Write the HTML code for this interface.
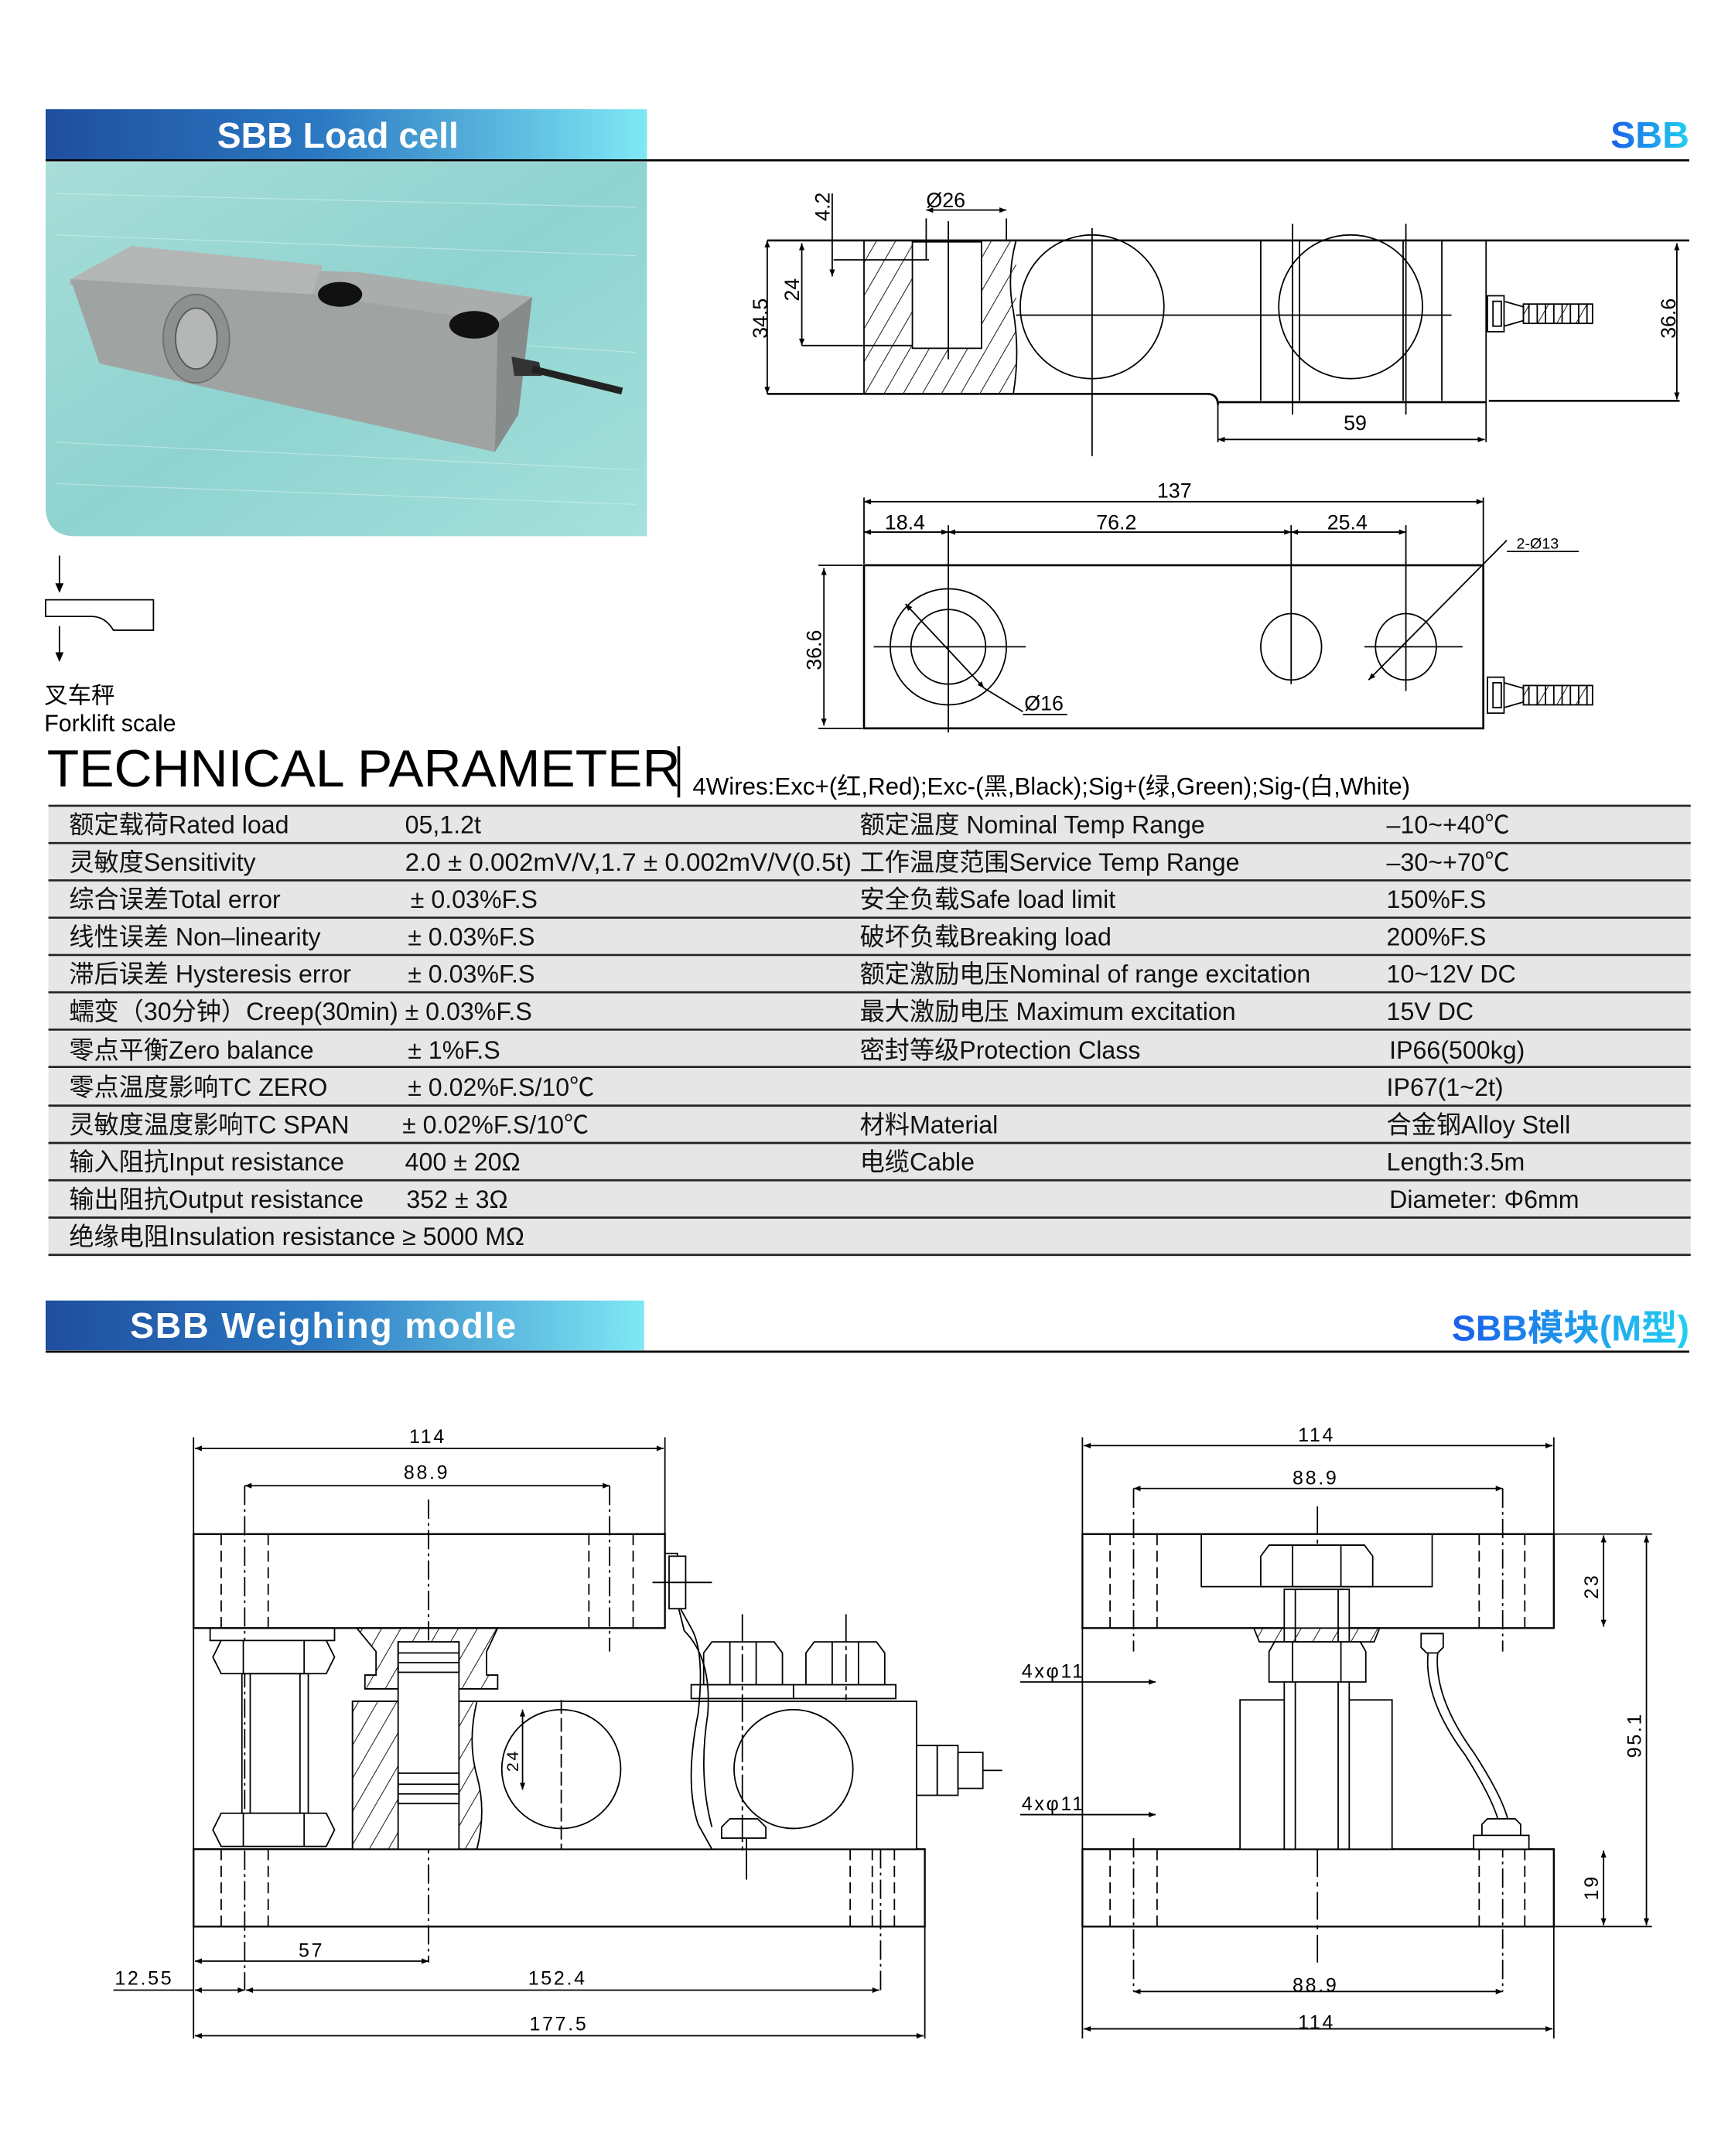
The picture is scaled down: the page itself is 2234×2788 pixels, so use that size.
<!DOCTYPE html>
<html><head><meta charset="utf-8"><style>
html,body{margin:0;padding:0;background:#fff}
svg{display:block}
text{font-family:"Liberation Sans","Noto Sans CJK SC",sans-serif}
.d{font-family:"Liberation Serif","Noto Serif CJK SC",serif;font-size:14px;letter-spacing:1.5px}
</style></head><body>
<svg width="2234" height="2788" viewBox="0 0 1250 1560" preserveAspectRatio="none" xmlns="http://www.w3.org/2000/svg">
<defs>
<linearGradient id="hb" x1="0" x2="1" y1="0" y2="0"><stop offset="0" stop-color="#1f4f9e"/><stop offset="0.45" stop-color="#2b78c2"/><stop offset="1" stop-color="#7fe8f4"/></linearGradient>
<linearGradient id="tx" x1="0" x2="1"><stop offset="0" stop-color="#1a5ee8"/><stop offset="1" stop-color="#22d0f0"/></linearGradient>
<linearGradient id="ph" x1="0" x2="1" y1="0" y2="1"><stop offset="0" stop-color="#a8ddd8"/><stop offset="0.5" stop-color="#8fd3d0"/><stop offset="1" stop-color="#a5e0dc"/></linearGradient>
<linearGradient id="mt" x1="0" x2="1" y1="0" y2="1"><stop offset="0" stop-color="#b9bcbb"/><stop offset="1" stop-color="#8f9493"/></linearGradient>
<pattern id="hat" patternUnits="userSpaceOnUse" width="12" height="12" patternTransform="rotate(30)"><line x1="0" y1="0" x2="0" y2="12" stroke="#000" stroke-width="1"/></pattern>
<marker id="a" viewBox="0 0 10 10" refX="10" refY="5" markerWidth="8" markerHeight="5" orient="auto-start-reverse"><path d="M0,1 L10,5 L0,9z" fill="#000"/></marker>
</defs>

<!-- header 1 -->
<rect x="33" y="79" width="435" height="37" fill="url(#hb)"/>
<text x="157" y="107" font-size="26" font-weight="bold" fill="#fff">SBB  Load cell</text>
<line x1="33" y1="116" x2="1222" y2="116" stroke="#000" stroke-width="1.5"/>
<text x="1222" y="107" font-size="27" font-weight="bold" fill="url(#tx)" text-anchor="end">SBB</text>

<!-- photo -->
<path d="M33,117 H468 V388 H55 Q33,388 33,366 Z" fill="url(#ph)"/>
<g stroke="#c6ecea" stroke-width="0.6" opacity="0.8">
<line x1="40" y1="140" x2="460" y2="150"/><line x1="40" y1="170" x2="460" y2="185"/><line x1="40" y1="320" x2="460" y2="340"/><line x1="40" y1="350" x2="460" y2="365"/><line x1="60" y1="230" x2="460" y2="255"/>
</g>
<!-- top face -->
<polygon points="51,202 95,178 233,192 231,214 260,197 385,215 360,233 50,206" fill="#b0b3b2"/>
<polygon points="95,178 233,192 226,213 51,202" fill="#b3b6b5"/>
<polygon points="231,196 260,197 385,215 360,233 226,213" fill="#a9adac"/>
<!-- front face -->
<polygon points="51,202 226,213 360,233 358,327 72,263" fill="#9fa3a2"/>
<!-- right face -->
<polygon points="360,233 385,215 375,300 358,327" fill="#878c8b"/>
<ellipse cx="142" cy="245" rx="24" ry="32" fill="#8c908f" stroke="#6d7170"/>
<ellipse cx="142" cy="245" rx="15" ry="22" fill="#b4b7b6" stroke="#555"/>
<ellipse cx="246" cy="213" rx="16" ry="9" fill="#111"/>
<ellipse cx="343" cy="235" rx="18" ry="10" fill="#111"/>
<polygon points="370,258 390,262 392,272 372,272" fill="#333"/>
<line x1="385" y1="267" x2="450" y2="283" stroke="#222" stroke-width="5"/>

<!-- forklift icon -->
<line x1="43" y1="402" x2="43" y2="428" stroke="#000"/><path d="M40,422 L43,429 L46,422z"/>
<path d="M33,434 H111 V456 H82 Q76,446 66,446 H33 Z" fill="none" stroke="#000"/>
<line x1="43" y1="453" x2="43" y2="478" stroke="#000"/><path d="M40,472 L43,479 L46,472z"/>
<text x="32" y="509" font-size="17">叉车秤</text>
<text x="32" y="529" font-size="17">Forklift scale</text>

<!-- top drawing (side view) -->
<g fill="none" stroke="#000" stroke-width="1">
<rect x="625" y="174" width="110" height="111" fill="url(#hat)" stroke="none"/>
<rect x="660" y="175" width="50" height="77" fill="#fff" stroke="#000"/>
<line x1="555" y1="174" x2="1222" y2="174" stroke-width="1.5"/>
<path d="M555,285 H873 Q881,285 881,293 V291 H1075" stroke-width="1.5"/>
<line x1="1077" y1="290" x2="1215" y2="290" stroke-width="1.5"/>
<line x1="625" y1="174" x2="625" y2="285"/>
<path d="M735,174 Q728,200 733,225 Q738,255 733,285"/>
<line x1="603" y1="188" x2="672" y2="188"/>
<line x1="580" y1="250" x2="660" y2="250"/>
<line x1="670" y1="158" x2="670" y2="188"/><line x1="728" y1="158" x2="728" y2="174"/>
<line x1="686" y1="160" x2="686" y2="260"/>
<circle cx="790" cy="222" r="52"/>
<line x1="790" y1="165" x2="790" y2="330"/>
<circle cx="977" cy="222" r="52"/>
<line x1="912" y1="174" x2="912" y2="290"/><line x1="940" y1="174" x2="940" y2="290"/>
<line x1="1015" y1="174" x2="1015" y2="290"/><line x1="1043" y1="174" x2="1043" y2="290"/>
<line x1="1075" y1="174" x2="1075" y2="320"/>
<line x1="935" y1="162" x2="935" y2="300"/><line x1="1017" y1="162" x2="1017" y2="300"/>
<line x1="735" y1="228" x2="1050" y2="228"/>
<line x1="881" y1="293" x2="881" y2="320"/>
<line x1="555" y1="174" x2="555" y2="285" marker-start="url(#a)" marker-end="url(#a)"/>
<line x1="580" y1="176" x2="580" y2="250" marker-start="url(#a)" marker-end="url(#a)"/>
<line x1="602" y1="140" x2="602" y2="200" marker-end="url(#a)"/>
<line x1="670" y1="152" x2="728" y2="152" marker-start="url(#a)" marker-end="url(#a)"/>
<line x1="881" y1="318" x2="1074" y2="318" marker-start="url(#a)" marker-end="url(#a)"/>
<line x1="1213" y1="176" x2="1213" y2="289" marker-start="url(#a)" marker-end="url(#a)"/>
</g>
<g id="conn" fill="none" stroke="#000" stroke-width="1">
<rect x="1076" y="214" width="12" height="26"/><rect x="1080" y="218" width="6" height="18"/>
<path d="M1088,218 L1102,222 V232 L1088,236"/>
<rect x="1102" y="220" width="50" height="14" fill="url(#hat)"/>
<g stroke="#000"><line x1="1106" y1="220" x2="1106" y2="234"/><line x1="1112" y1="220" x2="1112" y2="234"/><line x1="1118" y1="220" x2="1118" y2="234"/><line x1="1124" y1="220" x2="1124" y2="234"/><line x1="1130" y1="220" x2="1130" y2="234"/><line x1="1136" y1="220" x2="1136" y2="234"/><line x1="1142" y1="220" x2="1142" y2="234"/><line x1="1148" y1="220" x2="1148" y2="234"/></g>
</g>
<use href="#conn" transform="translate(0,276)"/>
<g font-size="15">
<text x="670" y="150">Ø26</text>
<text x="600" y="160" transform="rotate(-90 600 160)">4.2</text>
<text x="578" y="218" transform="rotate(-90 578 218)">24</text>
<text x="555" y="245" transform="rotate(-90 555 245)">34.5</text>
<text x="1212" y="245" transform="rotate(-90 1212 245)">36.6</text>
<text x="972" y="311">59</text>
</g>

<!-- bottom view -->
<g fill="none" stroke="#000" stroke-width="1">
<rect x="625" y="409" width="448" height="118" stroke-width="1.5"/>
<line x1="625" y1="360" x2="625" y2="408"/><line x1="1073" y1="360" x2="1073" y2="408"/>
<line x1="625" y1="363" x2="1073" y2="363" marker-start="url(#a)" marker-end="url(#a)"/>
<line x1="625" y1="385" x2="686" y2="385" marker-start="url(#a)" marker-end="url(#a)"/>
<line x1="686" y1="385" x2="934" y2="385" marker-start="url(#a)" marker-end="url(#a)"/>
<line x1="934" y1="385" x2="1017" y2="385" marker-start="url(#a)" marker-end="url(#a)"/>
<line x1="686" y1="380" x2="686" y2="530"/><line x1="934" y1="380" x2="934" y2="495"/><line x1="1017" y1="380" x2="1017" y2="500"/>
<circle cx="686" cy="468" r="42"/><circle cx="686" cy="468" r="27"/>
<line x1="632" y1="468" x2="742" y2="468"/>
<ellipse cx="934" cy="468" rx="22" ry="24"/>
<ellipse cx="1017" cy="468" rx="22" ry="24"/>
<line x1="987" y1="468" x2="1058" y2="468"/>
<line x1="655" y1="437" x2="712" y2="498" marker-start="url(#a)" marker-end="url(#a)"/>
<line x1="712" y1="498" x2="740" y2="515"/><line x1="740" y1="517" x2="772" y2="517"/>
<line x1="990" y1="492" x2="1090" y2="391" marker-start="url(#a)"/>
<line x1="1090" y1="399" x2="1142" y2="399"/>
<line x1="592" y1="409" x2="624" y2="409"/><line x1="592" y1="527" x2="624" y2="527"/>
<line x1="596" y1="411" x2="596" y2="525" marker-start="url(#a)" marker-end="url(#a)"/>
</g>
<g font-size="15">
<text x="837" y="360">137</text>
<text x="640" y="383">18.4</text>
<text x="793" y="383">76.2</text>
<text x="960" y="383">25.4</text>
<text x="1097" y="397" font-size="11">2-Ø13</text>
<text x="741" y="514">Ø16</text>
<text x="594" y="485" transform="rotate(-90 594 485)">36.6</text>
</g>

<!-- technical parameter -->
<text x="34" y="569" font-size="38">TECHNICAL PARAMETER</text>
<line x1="491" y1="540" x2="491" y2="577" stroke="#000" stroke-width="2"/>
<text x="501" y="575" font-size="17.5">4Wires:Exc+(红,Red);Exc-(黑,Black);Sig+(绿,Green);Sig-(白,White)</text>
<rect x="35" y="583" width="1188" height="325" fill="#e6e6e6"/>
<g stroke="#222" stroke-width="1.5">
<line x1="35" y1="583" x2="1223" y2="583"/><line x1="35" y1="610" x2="1223" y2="610"/><line x1="35" y1="637" x2="1223" y2="637"/><line x1="35" y1="664" x2="1223" y2="664"/><line x1="35" y1="691" x2="1223" y2="691"/><line x1="35" y1="718" x2="1223" y2="718"/><line x1="35" y1="745" x2="1223" y2="745"/><line x1="35" y1="772" x2="1223" y2="772"/><line x1="35" y1="800" x2="1223" y2="800"/><line x1="35" y1="827" x2="1223" y2="827"/><line x1="35" y1="854" x2="1223" y2="854"/><line x1="35" y1="881" x2="1223" y2="881"/><line x1="35" y1="908" x2="1223" y2="908"/>
</g>
<g font-size="18" fill="#111">
<text x="50" y="603">额定载荷Rated load</text><text x="293" y="603">05,1.2t</text><text x="622" y="603">额定温度 Nominal Temp Range</text><text x="1003" y="603">–10~+40℃</text>
<text x="50" y="630">灵敏度Sensitivity</text><text x="293" y="630" textLength="323" lengthAdjust="spacingAndGlyphs">2.0 ± 0.002mV/V,1.7 ± 0.002mV/V(0.5t)</text><text x="622" y="630">工作温度范围Service Temp Range</text><text x="1003" y="630">–30~+70℃</text>
<text x="50" y="657">综合误差Total error</text><text x="297" y="657">± 0.03%F.S</text><text x="622" y="657">安全负载Safe load limit</text><text x="1003" y="657">150%F.S</text>
<text x="50" y="684">线性误差 Non–linearity</text><text x="295" y="684">± 0.03%F.S</text><text x="622" y="684">破坏负载Breaking load</text><text x="1003" y="684">200%F.S</text>
<text x="50" y="711">滞后误差 Hysteresis error</text><text x="295" y="711">± 0.03%F.S</text><text x="622" y="711">额定激励电压Nominal of range excitation</text><text x="1003" y="711">10~12V DC</text>
<text x="50" y="738">蠕变（30分钟）Creep(30min) ± 0.03%F.S</text><text x="622" y="738">最大激励电压 Maximum excitation</text><text x="1003" y="738">15V DC</text>
<text x="50" y="766">零点平衡Zero balance</text><text x="295" y="766">± 1%F.S</text><text x="622" y="766">密封等级Protection Class</text><text x="1005" y="766">IP66(500kg)</text>
<text x="50" y="793">零点温度影响TC ZERO</text><text x="295" y="793">± 0.02%F.S/10℃</text><text x="1003" y="793">IP67(1~2t)</text>
<text x="50" y="820">灵敏度温度影响TC SPAN</text><text x="291" y="820">± 0.02%F.S/10℃</text><text x="622" y="820">材料Material</text><text x="1003" y="820">合金钢Alloy Stell</text>
<text x="50" y="847">输入阻抗Input resistance</text><text x="293" y="847">400 ± 20Ω</text><text x="622" y="847">电缆Cable</text><text x="1003" y="847">Length:3.5m</text>
<text x="50" y="874">输出阻抗Output resistance</text><text x="294" y="874">352 ± 3Ω</text><text x="1005" y="874">Diameter: Φ6mm</text>
<text x="50" y="901">绝缘电阻Insulation resistance ≥ 5000 MΩ</text>
</g>

<!-- header 2 -->
<rect x="33" y="941" width="433" height="36" fill="url(#hb)"/>
<text x="94" y="968" font-size="26" font-weight="bold" fill="#fff" letter-spacing="1">SBB  Weighing modle</text>
<line x1="33" y1="978" x2="1222" y2="978" stroke="#000" stroke-width="1.5"/>
<text x="1222" y="970" font-size="26" font-weight="bold" fill="url(#tx)" text-anchor="end">SBB模块(M型)</text>

<!-- module left -->
<g fill="none" stroke="#000" stroke-width="1">
<rect x="140" y="1110" width="341" height="68" fill="#fff" stroke-width="1.3"/>
<rect x="140" y="1338" width="529" height="56" stroke-width="1.3"/>
<line x1="140" y1="1040" x2="140" y2="1475"/><line x1="481" y1="1040" x2="481" y2="1110"/><line x1="669" y1="1394" x2="669" y2="1475"/>
<line x1="141" y1="1048" x2="480" y2="1048" marker-start="url(#a)" marker-end="url(#a)"/>
<line x1="177" y1="1075" x2="441" y2="1075" marker-start="url(#a)" marker-end="url(#a)"/>
<g stroke-dasharray="8,4">
<line x1="160" y1="1110" x2="160" y2="1178"/><line x1="194" y1="1110" x2="194" y2="1178"/><line x1="426" y1="1110" x2="426" y2="1178"/><line x1="458" y1="1110" x2="458" y2="1178"/>
<line x1="160" y1="1338" x2="160" y2="1394"/><line x1="194" y1="1338" x2="194" y2="1394"/><line x1="615" y1="1338" x2="615" y2="1394"/><line x1="631" y1="1338" x2="631" y2="1394"/><line x1="647" y1="1338" x2="647" y2="1394"/>
<line x1="177" y1="1075" x2="177" y2="1440" stroke-dasharray="14,3,2,3"/>
<line x1="310" y1="1085" x2="310" y2="1420" stroke-dasharray="14,3,2,3"/>
<line x1="441" y1="1075" x2="441" y2="1195" stroke-dasharray="14,3,2,3"/>
<line x1="637" y1="1338" x2="637" y2="1440" stroke-dasharray="14,3,2,3"/>
<line x1="340" y1="1277" x2="672" y2="1277" stroke-dasharray="20,4,3,4"/>
</g>
<rect x="152" y="1178" width="90" height="9"/>
<path d="M160,1187 H236 L242,1199 L236,1211 H160 L154,1199 Z" fill="#fff"/>
<line x1="176" y1="1187" x2="176" y2="1211"/><line x1="220" y1="1187" x2="220" y2="1211"/>
<rect x="175" y="1211" width="48" height="101"/><line x1="181" y1="1211" x2="181" y2="1312"/><line x1="217" y1="1211" x2="217" y2="1312"/>
<path d="M160,1312 H236 L242,1324 L236,1336 H160 L154,1324 Z" fill="#fff"/>
<line x1="176" y1="1312" x2="176" y2="1336"/><line x1="220" y1="1312" x2="220" y2="1336"/>
<path d="M258,1178 H360 L352,1195 V1212 H360 V1222 H264 V1212 H272 V1195 Z" fill="url(#hat)"/>
<rect x="255" y="1231" width="408" height="107" fill="#fff"/>
<path d="M255,1231 H345 Q338,1260 345,1285 Q352,1310 345,1338 H255 Z" fill="url(#hat)"/>
<rect x="288" y="1188" width="44" height="150" fill="#fff"/>
<rect x="288" y="1188" width="44" height="22" fill="none"/><line x1="288" y1="1196" x2="332" y2="1196"/><line x1="288" y1="1203" x2="332" y2="1203"/>
<rect x="288" y="1283" width="44" height="22"/><line x1="288" y1="1291" x2="332" y2="1291"/><line x1="288" y1="1298" x2="332" y2="1298"/>
<ellipse cx="406" cy="1280" rx="43" ry="43"/>
<ellipse cx="574" cy="1280" rx="43" ry="43"/>
<line x1="406" y1="1230" x2="406" y2="1338" stroke-dasharray="10,3"/>
<line x1="378" y1="1237" x2="378" y2="1295" marker-start="url(#a)" marker-end="url(#a)"/>
<g fill="#fff">
<rect x="500" y="1219" width="74" height="10"/><rect x="574" y="1219" width="74" height="10"/>
<path d="M509,1196 L515,1188 H560 L566,1196 V1219 H509 Z"/><line x1="528" y1="1188" x2="528" y2="1219"/><line x1="547" y1="1188" x2="547" y2="1219"/>
<path d="M583,1196 L589,1188 H634 L640,1196 V1219 H583 Z"/><line x1="602" y1="1188" x2="602" y2="1219"/><line x1="621" y1="1188" x2="621" y2="1219"/>
<path d="M522,1330 V1322 L528,1316 H548 L554,1322 V1330 Z"/>
</g>
<line x1="537" y1="1168" x2="537" y2="1340" stroke-dasharray="20,3,3,3"/><line x1="612" y1="1168" x2="612" y2="1230" stroke-dasharray="20,3,3,3"/>
<line x1="540" y1="1330" x2="540" y2="1360"/>
<path d="M481,1124 H490 V1160 L500,1178 Q510,1195 505,1240 Q495,1290 505,1320 L515,1338"/>
<path d="M490,1160 L495,1180 Q515,1200 512,1240 Q505,1285 515,1322"/>
<rect x="484" y="1126" width="12" height="38" fill="#fff"/><line x1="472" y1="1145" x2="515" y2="1145"/>
<rect x="663" y="1263" width="15" height="36" fill="#fff"/><rect x="678" y="1263" width="15" height="36" fill="#fff"/><rect x="693" y="1268" width="18" height="26" fill="#fff"/>
<line x1="711" y1="1281" x2="725" y2="1281"/>
<line x1="141" y1="1419" x2="310" y2="1419" marker-start="url(#a)" marker-end="url(#a)"/>
<line x1="82" y1="1440" x2="140" y2="1440"/>
<line x1="141" y1="1440" x2="177" y2="1440" marker-start="url(#a)" marker-end="url(#a)"/>
<line x1="178" y1="1440" x2="636" y2="1440" marker-start="url(#a)" marker-end="url(#a)"/>
<line x1="141" y1="1473" x2="668" y2="1473" marker-start="url(#a)" marker-end="url(#a)"/>
</g>
<g class="d">
<text x="296" y="1044">114</text><text x="292" y="1070">88.9</text>
<text x="216" y="1416">57</text><text x="83" y="1436">12.55</text>
<text x="382" y="1436">152.4</text><text x="383" y="1469">177.5</text>
<text x="375" y="1282" transform="rotate(-90 375 1282)" font-size="12">24</text>
</g>

<!-- module right -->
<g fill="none" stroke="#000" stroke-width="1">
<rect x="783" y="1110" width="341" height="68" stroke-width="1.3"/>
<rect x="869" y="1110" width="167" height="38"/>
<rect x="783" y="1338" width="341" height="56" stroke-width="1.3"/>
<line x1="783" y1="1040" x2="783" y2="1475"/><line x1="1124" y1="1040" x2="1124" y2="1110"/><line x1="1124" y1="1394" x2="1124" y2="1475"/>
<line x1="1124" y1="1110" x2="1195" y2="1110"/><line x1="1124" y1="1394" x2="1195" y2="1394"/>
<line x1="784" y1="1046" x2="1123" y2="1046" marker-start="url(#a)" marker-end="url(#a)"/>
<line x1="820" y1="1077" x2="1087" y2="1077" marker-start="url(#a)" marker-end="url(#a)"/>
<line x1="820" y1="1441" x2="1087" y2="1441" marker-start="url(#a)" marker-end="url(#a)"/>
<line x1="784" y1="1468" x2="1123" y2="1468" marker-start="url(#a)" marker-end="url(#a)"/>
<line x1="1160" y1="1111" x2="1160" y2="1177" marker-start="url(#a)" marker-end="url(#a)"/>
<line x1="1160" y1="1339" x2="1160" y2="1393" marker-start="url(#a)" marker-end="url(#a)"/>
<line x1="1191" y1="1111" x2="1191" y2="1393" marker-start="url(#a)" marker-end="url(#a)"/>
<g stroke-dasharray="8,4">
<line x1="803" y1="1110" x2="803" y2="1178"/><line x1="837" y1="1110" x2="837" y2="1178"/><line x1="1070" y1="1110" x2="1070" y2="1178"/><line x1="1103" y1="1110" x2="1103" y2="1178"/>
<line x1="803" y1="1338" x2="803" y2="1394"/><line x1="837" y1="1338" x2="837" y2="1394"/><line x1="1070" y1="1338" x2="1070" y2="1394"/><line x1="1103" y1="1338" x2="1103" y2="1394"/>
<line x1="820" y1="1077" x2="820" y2="1195" stroke-dasharray="14,3,2,3"/><line x1="1087" y1="1077" x2="1087" y2="1195" stroke-dasharray="14,3,2,3"/>
<line x1="820" y1="1330" x2="820" y2="1441" stroke-dasharray="14,3,2,3"/><line x1="1087" y1="1330" x2="1087" y2="1441" stroke-dasharray="14,3,2,3"/>
<line x1="953" y1="1090" x2="953" y2="1420" stroke-dasharray="20,4,3,4"/>
</g>
<line x1="738" y1="1217" x2="836" y2="1217" marker-end="url(#a)"/>
<line x1="738" y1="1313" x2="836" y2="1313" marker-end="url(#a)"/>
<rect x="897" y="1230" width="110" height="108" fill="#fff"/>
<rect x="929" y="1150" width="47" height="188" fill="#fff"/>
<line x1="937" y1="1150" x2="937" y2="1338"/><line x1="968" y1="1150" x2="968" y2="1338"/>
<path d="M912,1126 L918,1118 H987 L993,1126 V1148 H912 Z" fill="#fff"/>
<line x1="935" y1="1118" x2="935" y2="1148"/><line x1="970" y1="1118" x2="970" y2="1148"/>
<path d="M907,1178 H998 L994,1188 H911 Z" fill="url(#hat)"/>
<path d="M918,1195 L922,1188 H984 L988,1195 V1217 H918 Z" fill="#fff"/>
<line x1="935" y1="1188" x2="935" y2="1217"/><line x1="970" y1="1188" x2="970" y2="1217"/>
<path d="M1028,1182 H1044 V1192 L1040,1196 H1032 L1028,1192 Z"/>
<path d="M1033,1196 Q1030,1230 1060,1270 Q1085,1310 1085,1325"/>
<path d="M1040,1196 Q1037,1228 1066,1268 Q1092,1308 1092,1325"/>
<path d="M1066,1338 V1328 H1106 V1338 Z M1072,1328 V1320 L1076,1316 H1096 L1100,1320 V1328" fill="#fff"/>
</g>
<g class="d">
<text x="939" y="1043">114</text><text x="935" y="1074">88.9</text>
<text x="935" y="1441">88.9</text><text x="939" y="1468">114</text>
<text x="739" y="1214">4xφ11</text><text x="739" y="1310">4xφ11</text>
<text x="1156" y="1157" transform="rotate(-90 1156 1157)">23</text>
<text x="1156" y="1375" transform="rotate(-90 1156 1375)">19</text>
<text x="1187" y="1272" transform="rotate(-90 1187 1272)">95.1</text>
</g>
</svg>
</body></html>
